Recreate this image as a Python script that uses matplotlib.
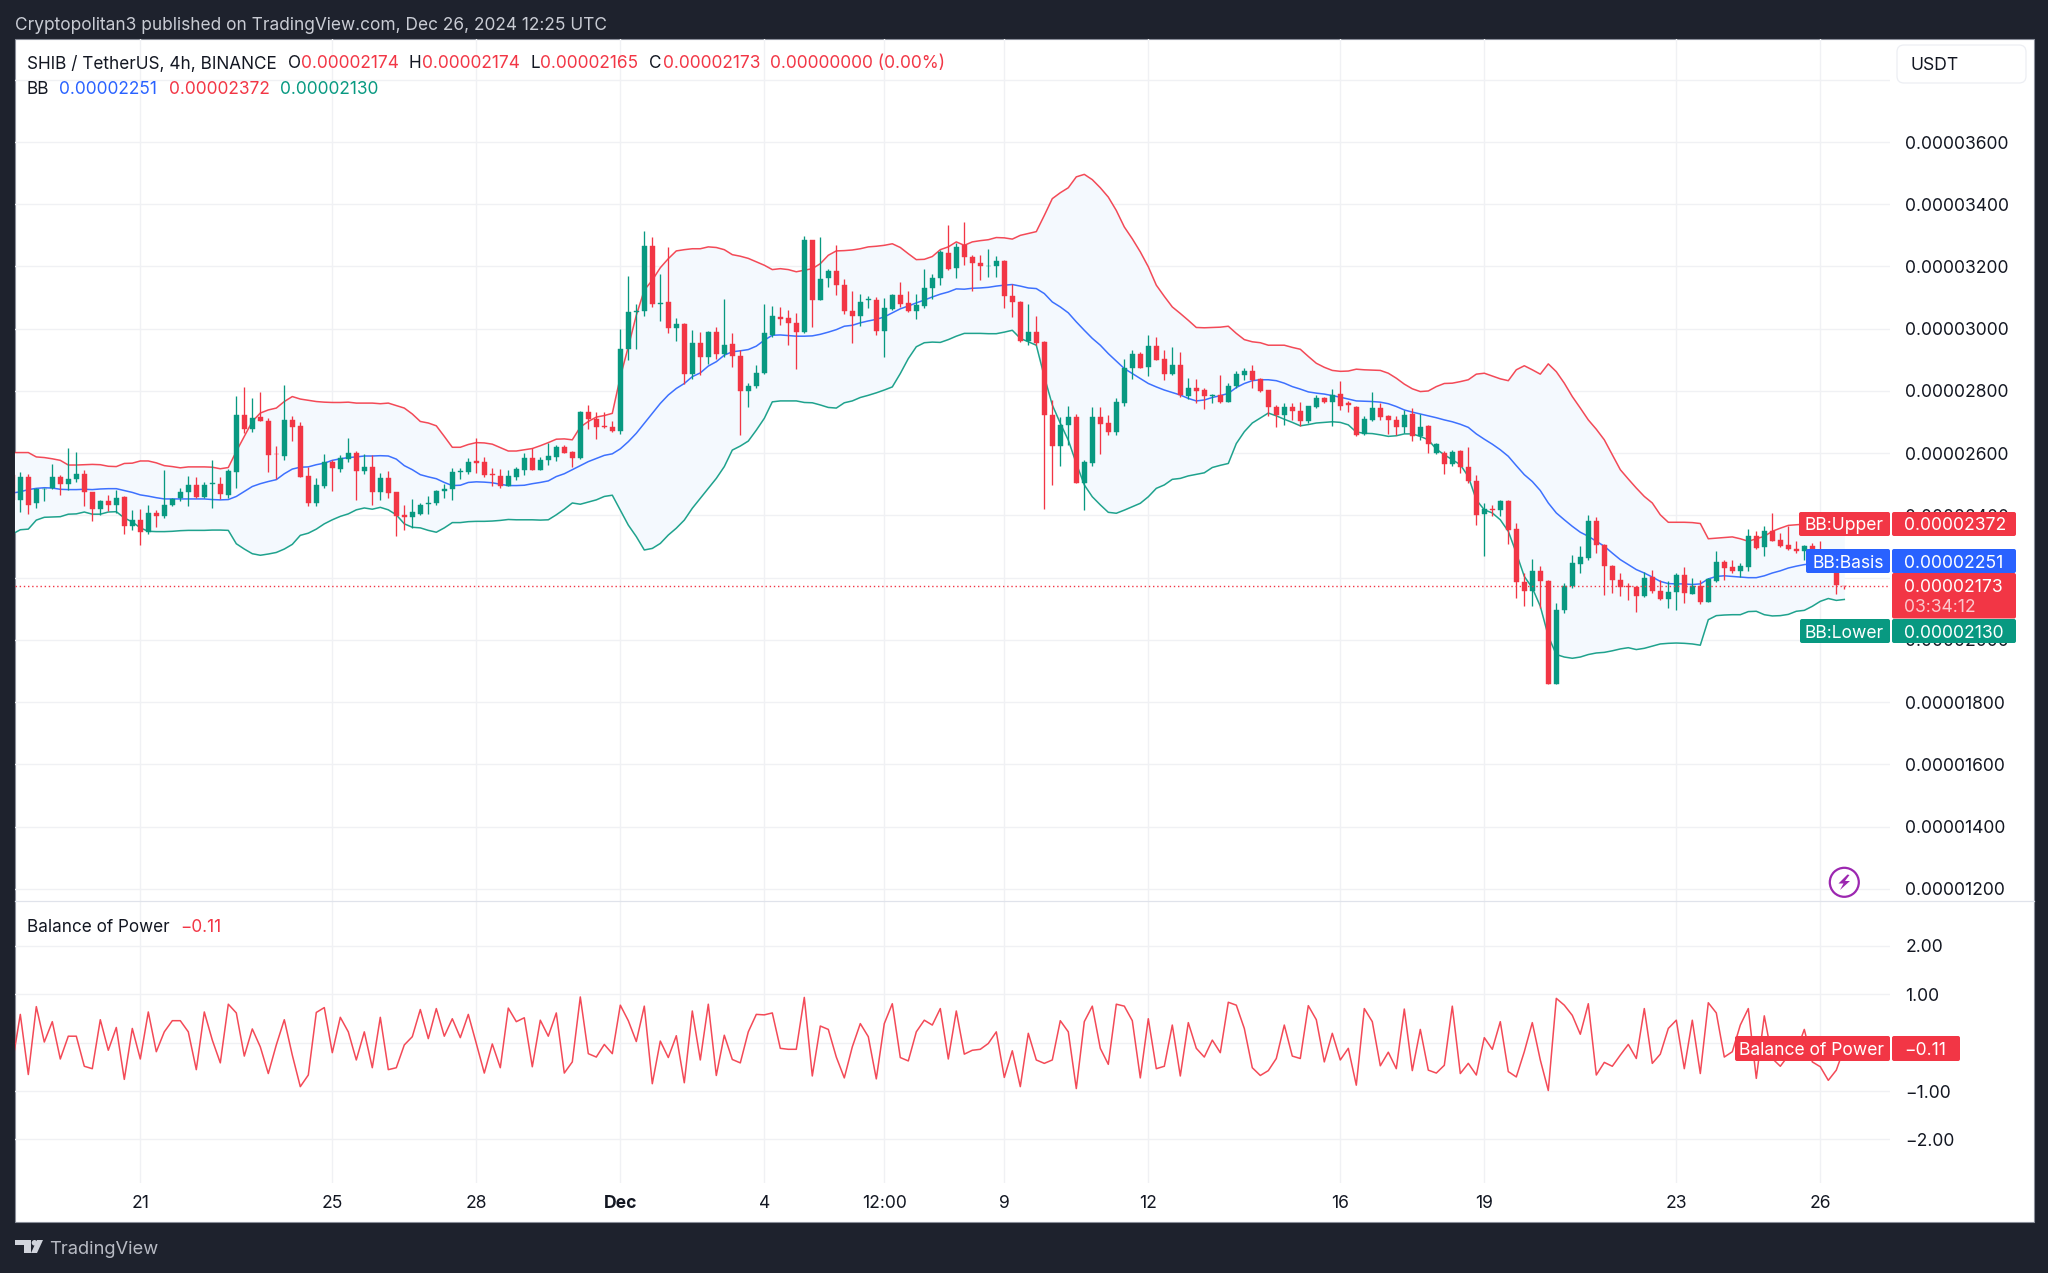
import matplotlib
matplotlib.use("Agg")
import numpy as np
import matplotlib.pyplot as plt
from matplotlib.patches import Rectangle, FancyBboxPatch, Circle, Polygon

plt.rcParams['font.family'] = ['Inter', 'DejaVu Sans']

# ---- data: prices in units of 1e-8 USDT, one entry per 4h bar ----
opens = [2531,
 2448,2523,2439,2484,2488,2522,2501,2517,2532,2474,
 2421,2445,2434,2460,2367,2386,2348,2408,2397,2432,
 2455,2474,2497,2459,2501,2500,2466,2540,2722,2678,
 2715,2704,2598,2592,2708,2687,2527,2439,2493,2573,
 2549,2581,2600,2542,2557,2474,2521,2474,2402,2396,
 2405,2436,2440,2477,2484,2540,2539,2574,2571,2532,
 2527,2493,2525,2547,2584,2547,2578,2588,2621,2604,
 2584,2731,2709,2688,2684,
 2671,2934,3053,3057,3267,3080,3086,3003,3015,2854,
 2955,2908,2991,2918,2950,2913,2800,2816,2858,2981,
 3039,3033,3018,2990,3284,3092,3162,3185,3140,3058,
 3042,3091,3092,2993,3063,3108,3083,3057,3073,3132,
 3164,3244,3194,3268,3232,3212,3201,3201,3218,3105,
 3086,2961,2990,2956,2722,2623,2691,2715,2503,2569,
 2715,2696,2667,2762,2875,2918,2878,2944,2904,2854,
 2885,2783,2811,2803,2783,2786,2766,2816,2850,
 2864,2839,2804,2747,2722,2747,2734,2702,2750,2776,
 2765,2790,2761,2750,2662,2707,2745,2720,2707,2684,
 2726,2656,2686,2600,2600,2566,2606,2557,2511,2405,
 2422,2416,2445,2356,2185,2156,2220,2189,1859,2097,
 2172,2245,2263,2383,2304,2239,2194,2174,2170,2140,
 2201,2156,2132,2153,2210,2149,2174,2123,2188,2250,
 2234,2220,2234,2333,2298,2349,2322,2306,2292,2285,
 2303,2268,2250,2232,2174]
closes = [2450,
 2522,2434,2486,2486,2523,2501,2517,2532,2474,2421,
 2445,2434,2457,2367,2386,2348,2408,2397,2433,2453,
 2476,2497,2459,2497,2504,2469,2542,2722,2678,2713,
 2702,2594,2596,2708,2685,2525,2439,2497,2573,2552,
 2584,2600,2542,2557,2474,2521,2472,2399,2396,2410,
 2433,2441,2478,2486,2539,2543,2571,2570,2529,2530,
 2493,2527,2549,2583,2547,2579,2591,2619,2600,2584,
 2731,2709,2685,2685,2671,
 2934,3053,3058,3267,3078,3084,3001,3015,2854,2955,
 2908,2991,2920,2949,2913,2801,2817,2859,2985,3042,
 3031,3018,2990,3284,3092,3161,3185,3140,3057,3042,
 3086,3094,2992,3065,3108,3081,3057,3076,3132,3163,
 3245,3191,3263,3231,3212,3201,3203,3218,3105,3085,
 2962,2988,2955,2722,2624,2692,2715,2503,2572,2715,
 2694,2669,2764,2875,2918,2875,2944,2901,2854,2885,
 2786,2811,2801,2783,2786,2765,2817,2854,2864,
 2836,2801,2748,2723,2747,2734,2702,2752,2777,2764,
 2787,2753,2756,2659,2709,2745,2716,2707,2684,2724,
 2656,2684,2630,2630,2566,2604,2557,2511,2403,2422,
 2416,2445,2354,2185,2156,2220,2188,1859,2097,2172,
 2247,2265,2383,2304,2236,2192,2170,2171,2140,2200,
 2156,2132,2153,2210,2151,2174,2121,2196,2250,2231,
 2220,2239,2333,2295,2349,2317,2303,2293,2285,2303,
 2268,2250,2232,2175,2173]
highs = [2541,
 2541,2533,2488,2488,2565,2530,2617,2604,2547,2474,
 2450,2466,2483,2461,2417,2421,2433,2418,2547,2455,
 2488,2527,2524,2506,2577,2523,2549,2783,2814,2778,
 2797,2713,2622,2818,2720,2700,2557,2519,2598,2579,
 2595,2650,2606,2598,2593,2536,2543,2474,2434,2453,
 2440,2461,2483,2502,2552,2554,2586,2650,2587,2552,
 2550,2545,2557,2600,2616,2587,2632,2627,2626,2606,
 2734,2754,2732,2731,2705,
 3000,3169,3079,3314,3295,3175,3261,3035,3019,2995,
 2989,2992,3004,3094,2986,2931,2824,2885,3078,3072,
 3069,3060,3051,3297,3284,3296,3191,3268,3161,3122,
 3113,3104,3102,3100,3113,3150,3122,3110,3192,3175,
 3252,3332,3274,3342,3238,3236,3255,3234,3220,3143,
 3089,3078,3042,2960,2771,2717,2751,2726,2578,2747,
 2749,2722,2776,2904,2931,2926,2979,2974,2931,2942,
 2925,2843,2838,2811,2790,2851,2824,2865,2875,
 2884,2841,2804,2755,2761,2761,2764,2753,2787,2782,
 2806,2832,2768,2753,2718,2798,2761,2723,2718,2739,
 2745,2726,2691,2632,2606,2611,2611,2619,2531,2440,
 2434,2450,2450,2376,2215,2260,2236,2191,2119,2183,
 2274,2301,2402,2394,2309,2242,2215,2183,2174,2217,
 2226,2194,2188,2215,2234,2199,2194,2199,2285,2258,
 2258,2247,2356,2349,2365,2408,2343,2365,2317,2306,
 2311,2317,2262,2245,2174]
lows = [2429,
 2411,2404,2424,2445,2486,2466,2483,2509,2429,2381,
 2402,2413,2408,2340,2352,2304,2341,2363,2392,2429,
 2445,2429,2456,2456,2425,2453,2456,2488,2664,2668,
 2702,2539,2517,2579,2640,2525,2429,2429,2488,2477,
 2538,2573,2450,2533,2432,2450,2456,2333,2352,2359,
 2402,2405,2432,2455,2448,2517,2533,2536,2522,2493,
 2488,2493,2515,2531,2547,2545,2561,2576,2600,2556,
 2581,2677,2647,2680,2667,
 2661,2899,2936,3041,3070,3025,2985,2959,2822,2840,
 2851,2888,2902,2910,2878,2658,2749,2811,2856,2974,
 3011,2947,2872,2985,3006,3092,3134,3108,3046,2953,
 3008,3065,2979,2910,3060,3070,3054,3030,3068,3096,
 3139,3188,3162,3204,3122,3156,3167,3167,3065,3038,
 2956,2947,2947,2422,2498,2559,2626,2503,2417,2559,
 2599,2660,2660,2752,2840,2875,2848,2899,2835,2851,
 2779,2775,2760,2743,2762,2760,2765,2811,2835,
 2809,2798,2718,2683,2691,2707,2686,2697,2745,2761,
 2688,2739,2731,2656,2659,2702,2707,2662,2659,2664,
 2638,2643,2602,2598,2533,2560,2536,2504,2370,2271,
 2397,2397,2309,2135,2108,2108,2103,1857,1857,2087,
 2167,2215,2258,2279,2145,2151,2142,2127,2090,2138,
 2151,2127,2103,2097,2119,2146,2117,2121,2185,2192,
 2215,2202,2220,2292,2271,2317,2298,2288,2279,2258,
 2263,2240,2220,2147,2165]
bb_upper = [2602,
 2602,2602,2588,2586,2582,2577,2562,2562,2563,2564,
 2563,2558,2557,2567,2568,2575,2575,2569,2560,2557,
 2553,2556,2556,2556,2555,2550,2554,2606,2654,2702,
 2729,2739,2745,2766,2782,2774,2770,2766,2764,2763,
 2763,2764,2761,2761,2761,2759,2761,2753,2745,2726,
 2702,2697,2688,2654,2619,2619,2628,2634,2633,2629,
 2618,2607,2607,2611,2615,2624,2634,2645,2646,2643,
 2684,2702,2716,2721,2728,
 2845,2942,3043,3124,3156,3196,3225,3250,3254,3257,
 3257,3263,3261,3254,3238,3233,3226,3215,3204,3190,
 3193,3190,3183,3188,3193,3209,3236,3250,3251,3253,
 3257,3263,3265,3268,3273,3261,3241,3222,3223,3232,
 3254,3263,3279,3268,3279,3283,3286,3293,3292,3288,
 3300,3306,3312,3364,3418,3437,3453,3488,3496,3479,
 3453,3423,3380,3327,3289,3247,3199,3140,3104,3070,
 3049,3027,3004,3003,3004,3005,3008,2985,2965,
 2958,2955,2947,2947,2947,2940,2934,2911,2889,2876,
 2866,2863,2864,2870,2868,2867,2866,2857,2841,2822,
 2807,2798,2800,2814,2824,2825,2830,2836,2854,2857,
 2848,2839,2833,2868,2881,2868,2854,2887,2862,2825,
 2782,2745,2707,2677,2643,2595,2547,2517,2488,2461,
 2440,2402,2378,2378,2378,2377,2374,2325,2327,2329,
 2331,2325,2317,2325,2333,2349,2359,2368,2370,2372,
 2372,2372,2372,2372,2372]
bb_basis = [2472,
 2476,2483,2487,2489,2488,2484,2483,2483,2484,2483,
 2485,2486,2486,2480,2474,2466,2462,2457,2453,2453,
 2453,2453,2453,2453,2451,2450,2451,2461,2477,2493,
 2502,2509,2515,2534,2549,2555,2556,2563,2568,2577,
 2582,2586,2588,2591,2591,2592,2591,2581,2560,2547,
 2531,2524,2518,2506,2496,2497,2506,2508,2507,2505,
 2500,2496,2496,2497,2502,2506,2511,2525,2534,2547,
 2560,2573,2583,2593,2598,
 2614,2637,2664,2696,2728,2760,2787,2808,2824,2846,
 2858,2880,2894,2915,2926,2929,2933,2944,2963,2979,
 2980,2978,2976,2976,2977,2982,2989,2997,3008,3011,
 3019,3025,3030,3038,3051,3064,3073,3083,3092,3102,
 3111,3118,3128,3127,3130,3131,3133,3137,3140,3142,
 3137,3131,3129,3113,3086,3070,3051,3022,2995,2969,
 2947,2920,2896,2872,2856,2840,2824,2813,2803,2795,
 2787,2776,2768,2771,2779,2785,2792,2811,2824,
 2833,2836,2836,2833,2825,2814,2806,2797,2793,2790,
 2785,2780,2774,2768,2767,2766,2764,2759,2750,2739,
 2732,2726,2720,2714,2707,2701,2693,2683,2662,2645,
 2629,2611,2590,2560,2531,2509,2480,2440,2408,2386,
 2365,2346,2333,2317,2301,2279,2258,2242,2226,2215,
 2202,2188,2181,2180,2180,2178,2180,2196,2204,2206,
 2204,2202,2200,2200,2206,2215,2222,2231,2237,2242,
 2245,2248,2250,2251,2251]
bb_lower = [2340,
 2354,2356,2385,2394,2395,2396,2404,2405,2411,2404,
 2404,2411,2412,2392,2379,2360,2349,2348,2348,2349,
 2351,2352,2352,2352,2353,2353,2352,2309,2292,2277,
 2272,2276,2281,2292,2307,2336,2343,2356,2373,2386,
 2397,2405,2418,2424,2420,2426,2418,2402,2373,2362,
 2360,2352,2346,2360,2377,2377,2380,2381,2381,2382,
 2384,2387,2386,2386,2386,2385,2386,2402,2420,2440,
 2436,2443,2450,2461,2465,
 2417,2369,2332,2289,2294,2310,2337,2359,2385,2423,
 2455,2487,2519,2557,2610,2623,2639,2674,2712,2765,
 2768,2768,2768,2763,2762,2755,2747,2745,2762,2768,
 2779,2786,2794,2803,2813,2856,2904,2942,2955,2957,
 2956,2965,2976,2985,2985,2985,2984,2984,2989,2995,
 2969,2958,2947,2846,2755,2696,2642,2567,2498,2460,
 2434,2410,2407,2417,2428,2439,2460,2487,2498,2516,
 2519,2527,2532,2537,2554,2561,2567,2631,2669,
 2697,2713,2729,2720,2709,2699,2688,2692,2697,2699,
 2701,2699,2691,2668,2664,2663,2659,2654,2656,2662,
 2662,2654,2643,2613,2595,2579,2563,2525,2450,2418,
 2408,2386,2349,2279,2204,2167,2108,2012,1953,1945,
 1941,1945,1953,1958,1960,1965,1971,1975,1969,1973,
 1980,1987,1989,1990,1989,1987,1983,2065,2078,2080,
 2081,2081,2091,2092,2081,2077,2078,2082,2092,2095,
 2108,2124,2133,2127,2130]
balance_of_power = [-0.43,
 0.58,-0.66,0.74,0.01,0.43,-0.34,0.13,0.13,-0.49,-0.54,
 0.47,-0.16,0.31,-0.76,0.29,-0.34,0.63,-0.19,0.22,0.45,
 0.45,0.22,-0.56,0.63,0.05,-0.42,0.79,0.61,-0.28,0.28,
 -0.09,-0.64,-0.05,0.47,-0.26,-0.91,-0.67,0.62,0.72,-0.21,
 0.52,0.22,-0.36,0.22,-0.52,0.52,-0.56,-0.52,-0.05,0.12,
 0.68,0.08,0.70,0.13,0.49,0.10,0.58,-0.02,-0.63,-0.03,
 -0.52,0.71,0.43,0.51,-0.50,0.46,0.13,0.61,-0.63,-0.40,
 0.94,-0.23,-0.30,-0.04,-0.23,0.77,0.45,0.02,0.75,-0.85,
 0.03,-0.31,0.14,-0.83,0.65,-0.36,0.79,-0.68,0.15,-0.35,
 -0.42,0.22,0.58,0.57,0.61,-0.12,-0.14,-0.14,0.93,-0.69,
 0.34,0.27,-0.30,-0.73,-0.09,0.39,0.12,-0.75,0.39,0.80,
 -0.31,-0.38,0.22,0.46,0.36,0.70,-0.34,0.65,-0.24,-0.16,
 -0.14,-0.02,0.22,-0.72,-0.17,-0.91,0.19,-0.36,-0.43,-0.36,
 0.45,0.22,-0.95,0.43,0.75,-0.12,-0.45,0.79,0.75,0.45,
 -0.73,0.49,-0.54,-0.49,0.36,-0.69,0.41,-0.12,-0.30,0.05,
 -0.21,0.83,0.77,0.29,-0.52,-0.68,-0.58,-0.33,0.36,-0.28,
 -0.33,0.76,0.47,-0.40,0.19,-0.36,-0.12,-0.88,0.70,0.43,
 -0.48,-0.20,-0.54,0.69,-0.58,0.27,-0.57,-0.63,-0.47,0.75,
 -0.64,-0.43,-0.67,0.10,-0.14,0.43,-0.60,-0.71,-0.19,0.41,
 -0.36,-0.99,0.91,0.77,0.56,0.17,0.80,-0.67,-0.41,-0.49,
 -0.26,-0.04,-0.33,0.70,-0.43,-0.24,0.29,0.46,-0.54,0.46,
 -0.64,0.82,0.61,-0.30,-0.19,0.36,0.70,-0.74,0.55,-0.33,
 -0.49,-0.27,-0.19,0.27,-0.40,-0.50,-0.78,-0.57,-0.11]

price_ticks = [1200,1400,1600,1800,2000,2200,2400,2600,2800,3000,3200,3400,3600,3800]
price_tick_labels = ['0.00001200','0.00001400','0.00001600','0.00001800','0.00002000',
                     '0.00002200','0.00002400','0.00002600','0.00002800','0.00003000',
                     '0.00003200','0.00003400','0.00003600','']
bop_ticks = [-2,-1,0,1,2]
bop_tick_labels = ['\u22122.00','\u22121.00','0.00','1.00','2.00']
time_bars = [15,39,57,75,93,108,123,141,165,183,207,225]
time_labels = ['21','25','28','Dec','4','12:00','9','12','16','19','23','26']
last_price = 2173

RED, GREEN, BLUE = '#F23645', '#089981', '#2962FF'
INK, GRID, DARK = '#131722', '#F0F1F4', '#1E222D'
FS = 12.6
LEG = 12.35

W, H = 2048, 1273
fig = plt.figure(figsize=(W/100, H/100), dpi=100, facecolor=DARK)

def box(x0, y0, x1, y1):
    return [x0/W, 1-y1/H, (x1-x0)/W, (y1-y0)/H]

back = fig.add_axes([0,0,1,1], zorder=0)
back.set_xlim(0,W); back.set_ylim(H,0); back.axis('off')
back.add_patch(Rectangle((15,39),2019,1183,fc='white',ec='#8A8E99',lw=0.8))

bars = np.arange(-1, len(opens)-1)
o, c, h, l = map(np.array, (opens, closes, highs, lows))
colors = np.where(c >= o, GREEN, RED)

ax = fig.add_axes(box(15,39,1890,901), zorder=1, facecolor='none')
xlim = ((15-20.3)/8, (1890-20.3)/8)
ax.set_xlim(*xlim); ax.set_ylim(1161, 3931)
ax.fill_between(bars, bb_lower, bb_upper, color='#F4F9FE', lw=0, zorder=1)
ax.plot(bars, bb_upper, color=RED, lw=1.1, zorder=2, alpha=.9)
ax.plot(bars, bb_lower, color=GREEN, lw=1.1, zorder=2, alpha=.9)
ax.plot(bars, bb_basis, color=BLUE, lw=1.1, zorder=2, alpha=.9)
ax.vlines(bars, l, h, colors=colors, lw=0.95, zorder=3)
ax.bar(bars, c-o, bottom=o, width=0.68, color=colors, edgecolor=colors, lw=0.3, zorder=4)
ax.axhline(last_price, color=RED, lw=1.0, ls=(0,(1.0,2.0)), zorder=5)
ax.set_yticks(price_ticks); ax.set_yticklabels(price_tick_labels)
ax.yaxis.tick_right()
ax.set_xticks(time_bars); ax.set_xticklabels([])
ax.tick_params(length=0, pad=11, labelsize=FS, labelcolor=INK)
ax.grid(True, color=GRID, lw=1.0, zorder=0); ax.set_axisbelow(True)
for s in ax.spines.values(): s.set_visible(False)

ax2 = fig.add_axes(box(15,901,1890,1183), zorder=1, facecolor='none')
ax2.set_xlim(*xlim); ax2.set_ylim(-2.897, 2.918)
ax2.plot(bars, balance_of_power, color=RED, lw=1.1, alpha=.9, zorder=3)
ax2.set_yticks(bop_ticks); ax2.set_yticklabels(bop_tick_labels)
ax2.yaxis.tick_right()
ax2.set_xticks(time_bars); ax2.set_xticklabels(time_labels)
ax2.tick_params(length=0, labelsize=FS, labelcolor=INK)
ax2.tick_params(axis='y', pad=11); ax2.tick_params(axis='x', pad=9)
for lab in ax2.get_xticklabels():
    if lab.get_text() == 'Dec':
        lab.set_fontweight('bold')
ax2.grid(True, color=GRID, lw=1.0, zorder=0); ax2.set_axisbelow(True)
for s in ax2.spines.values(): s.set_visible(False)

ch = fig.add_axes([0,0,1,1], zorder=10, facecolor='none')
ch.set_xlim(0,W); ch.set_ylim(H,0); ch.axis('off')
ch.plot([15,2034],[901,901],color='#E0E3EB',lw=0.9)

def t(x, y, s, color=INK, fs=FS, **kw):
    ch.text(x, y, s, color=color, fontsize=fs, va='center_baseline', **kw)

t(15, 23, 'Cryptopolitan3 published on TradingView.com, Dec 26, 2024 12:25 UTC', color='#C9CCD4', fs=12.46)
t(27, 62, 'SHIB / TetherUS, 4h, BINANCE', fs=LEG)
for x, s in [(288,'O'),(409,'H'),(530,'L'),(649,'C')]:
    t(x, 62, s, fs=LEG)
for x, s in [(301,'0.00002174'),(422,'0.00002174'),(540,'0.00002165'),(663,'0.00002173'),(770,'0.00000000 (0.00%)')]:
    t(x, 62, s, color=RED, fs=LEG+0.1)
t(27, 88, 'BB', fs=LEG)
t(59, 88, '0.00002251', color=BLUE, fs=LEG+0.1)
t(169, 88, '0.00002372', color=RED, fs=LEG+0.1)
t(280, 88, '0.00002130', color=GREEN, fs=LEG+0.1)
t(27, 925, 'Balance of Power', fs=LEG)
t(180, 925, '\u22120.11', color=RED, fs=LEG)

ch.add_patch(FancyBboxPatch((1899,47),125,34,boxstyle='round,pad=2,rounding_size=7',fc='white',ec='#ECEEF3',lw=0.9))
t(1910, 64, 'USDT')

def badge(x0, y0, x1, y1, color):
    ch.add_patch(FancyBboxPatch((x0+2,y0+2),x1-x0-4,y1-y0-4,boxstyle='round,pad=2,rounding_size=2',fc=color,ec='none'))

for y0, y1, lx, name, val, col in [(512,536,1799,'BB:Upper','0.00002372',RED),
                                   (619,643,1800,'BB:Lower','0.00002130',GREEN),
                                   (549,573,1806,'BB:Basis','0.00002251',BLUE)]:
    badge(lx, y0, 1890, y1, col)
    badge(1892, y0, 2016, y1, col)
    t(1884, (y0+y1)/2, name, color='white', ha='right')
    t(1904, (y0+y1)/2, val, color='white')
badge(1892, 573, 2016, 618.5, RED)
t(1904, 586, '0.00002173', color='white')
t(1904, 606, '03:34:12', color='#FBC8CD')

badge(1735, 1036, 1890, 1061, RED)
badge(1892, 1036, 1960, 1061, RED)
t(1884, 1048.5, 'Balance of Power', color='white', ha='right')
t(1904, 1048.5, '\u22120.11', color='white')

PURPLE = '#9C27B0'
ch.add_patch(Circle((1844.3,882.3),14.5,fc='white',ec=PURPLE,lw=1.6))
ch.add_patch(Polygon([(1847.5,874.5),(1838.5,883.5),(1843.5,883.5),(1840,890),
                      (1850,881),(1845,881),(1849.5,875)],fc=PURPLE,ec='none'))

LOGO = '#D1D4DC'
ch.add_patch(Polygon([(15,1240),(31,1240),(31,1253),(24,1253),(24,1245),(15,1245)],fc=LOGO,ec='none'))
ch.add_patch(Circle((34.5,1242.8),2.8,fc=LOGO,ec='none'))
ch.add_patch(Polygon([(37,1240),(43,1240),(37,1253),(31,1253)],fc=LOGO,ec='none'))
t(49, 1248, 'TradingView', color='#B8BBC4', fs=13.2)

fig.savefig('out.png', dpi=100, facecolor=DARK)
